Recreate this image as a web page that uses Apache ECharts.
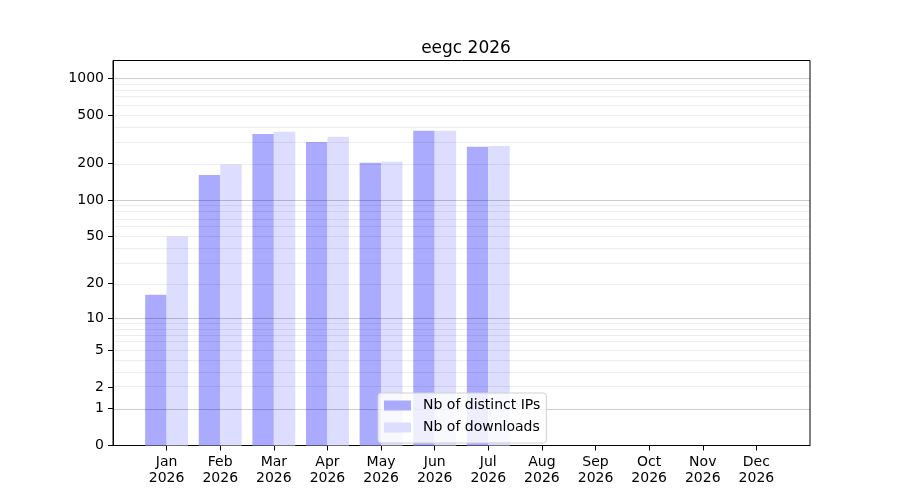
<!DOCTYPE html>
<html>
<head>
<meta charset="utf-8">
<script src="https://cdn.jsdelivr.net/npm/echarts@6/dist/echarts.min.js"></script>
<style>html,body{margin:0;padding:0;background:#fff}#c{width:900px;height:500px}</style>
</head>
<body>
<div id="c"></div>
<script>
const months = ['Jan','Feb','Mar','Apr','May','Jun','Jul','Aug','Sep','Oct','Nov','Dec'];
const year = '2026';
const distinctIPs = [16, 161, 350, 301, 203, 371, 274, 0, 0, 0, 0, 0];
const downloads = [50, 196, 364, 331, 207, 371, 279, 0, 0, 0, 0, 0];
const yTickValues = [0, 1, 2, 5, 10, 20, 50, 100, 200, 500, 1000];
const majorGrid = [1, 10, 100, 1000];
const minorGrid = [2,3,4,5,6,7,8,9,20,30,40,50,60,70,80,90,200,300,400,500,600,700,800,900];
const yMaxValue = 1395;

const t = v => Math.log10(1 + v);
const cats = [''].concat(months.map(m => m + '\n' + year)).concat(['']);
const pad = arr => [null].concat(arr.map(t)).concat([null]);
const font = 'DejaVu Sans';

const chart = echarts.init(document.getElementById('c'), null, {renderer: 'canvas'});
chart.setOption({
  animation: false,
  backgroundColor: '#fff',
  textStyle: {fontFamily: font},
  title: {
    text: 'eegc 2026', left: 461, top: 35, textAlign: 'center',
    textStyle: {fontFamily: font, fontSize: 17, fontWeight: 'normal', color: '#000'}
  },
  grid: {left: 113, right: 90, top: 60.5, bottom: 54.5, show: true, borderColor: '#000', borderWidth: 1, containLabel: false},
  legend: {
    orient: 'vertical', left: 378, top: 393, z: 10,
    itemWidth: 27, itemHeight: 10, itemGap: 5,
    padding: [4, 6, 7, 6],
    backgroundColor: 'rgba(255,255,255,0.8)', borderColor: '#d0d0d0', borderWidth: 1, borderRadius: 3,
    textStyle: {fontFamily: font, fontSize: 14, lineHeight: 17, color: '#000', padding: [0, 0, 0, 7]},
    data: [{name: 'Nb of distinct IPs', icon: 'rect'}, {name: 'Nb of downloads', icon: 'rect'}]
  },
  xAxis: {
    type: 'category', data: cats, boundaryGap: false,
    axisLine: {lineStyle: {color: '#000', width: 1}},
    axisTick: {show: true, length: 5, lineStyle: {color: '#000'}, interval: (i) => i > 0 && i < cats.length - 1},
    axisLabel: {interval: 0, color: '#000', fontSize: 14, fontFamily: font, margin: 9, lineHeight: 16},
    splitLine: {show: false}
  },
  yAxis: {
    type: 'value', min: 0, max: t(yMaxValue),
    axisLine: {show: true, lineStyle: {color: '#000', width: 1}},
    axisTick: {show: true, length: 5, lineStyle: {color: '#000'}, customValues: yTickValues.map(t)},
    axisLabel: {
      color: '#000', fontSize: 14, fontFamily: font, margin: 9,
      customValues: yTickValues.map(t),
      formatter: v => String(Math.round(Math.pow(10, v) - 1))
    },
    splitLine: {show: false}
  },
  series: [
    {
      name: 'Nb of distinct IPs', type: 'bar', data: pad(distinctIPs),
      barWidth: '40%', barGap: '0%', itemStyle: {color: '#aaaaff'},
      markLine: {
        silent: true, symbol: 'none', z: 5, label: {show: false},
        data: majorGrid.map(v => ({yAxis: t(v), lineStyle: {color: 'rgba(0,0,0,0.2)', width: 1, type: 'solid'}}))
          .concat(minorGrid.map(v => ({yAxis: t(v), lineStyle: {color: 'rgba(0,0,0,0.07)', width: 1, type: 'solid'}})))
      }
    },
    {
      name: 'Nb of downloads', type: 'bar', data: pad(downloads),
      barWidth: '40%', barGap: '0%', itemStyle: {color: '#ddddff'}
    }
  ]
});
</script>
</body>
</html>
